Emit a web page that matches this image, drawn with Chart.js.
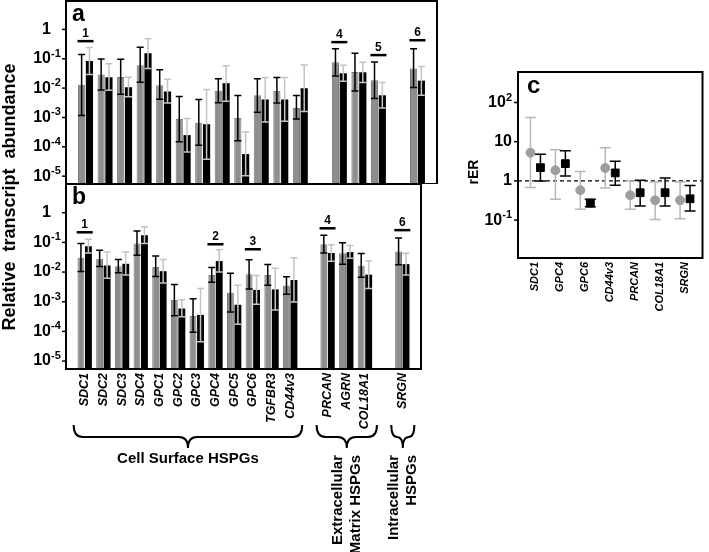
<!DOCTYPE html>
<html>
<head>
<meta charset="utf-8">
<script src="https://cdn.jsdelivr.net/npm/chart.js@4"></script>
<style>
  body { margin: 0; background: #fff; }
  #wrap { position: relative; width: 709px; height: 552px; overflow: hidden; }
  canvas { position: absolute; }
  #ytitle { position: absolute; left: -141px; top: 187px; width: 300px; height: 20px; line-height: 20px;
    text-align: center; transform: rotate(-90deg); font: bold 18px 'Liberation Sans', Arial, sans-serif;
    white-space: pre; color: #000; }
</style>
</head>
<body>
<div id="wrap">
  <canvas id="ca" width="440" height="184" style="left:0;top:0"></canvas>
  <canvas id="cb" width="440" height="369" style="left:0;top:183px"></canvas>
  <canvas id="cc" width="269" height="340" style="left:440px;top:0"></canvas>
  <div id="ytitle">Relative  transcript  abundance</div>
</div>
<script>
const FONT = "'Liberation Sans', Arial, sans-serif";
Chart.defaults.font.family = FONT;

// panels a and b: x slots ('' = gap)
const cats = ['', 'SDC1', 'SDC2', 'SDC3', 'SDC4', 'GPC1', 'GPC2', 'GPC3', 'GPC4', 'GPC5', 'GPC6', 'TGFBR3', 'CD44v3',
  '', 'PRCAN', 'AGRN', 'COL18A1', '', 'SRGN', ''];
const genes = ['SDC1', 'SDC2', 'SDC3', 'SDC4', 'GPC1', 'GPC2', 'GPC3', 'GPC4', 'GPC5', 'GPC6', 'TGFBR3', 'CD44v3',
  'PRCAN', 'AGRN', 'COL18A1', 'SRGN'];

// panel a
const aGray   = [0.0129, 0.029, 0.024, 0.06, 0.0125, 0.00088, 0.00066, 0.0082, 0.00095, 0.0057, 0.0082, 0.0021, 0.076, 0.0355, 0.0185, 0.047];
const aGrayHi = [0.141, 0.098, 0.096, 0.245, 0.042, 0.0052, 0.0041, 0.021, 0.0056, 0.021, 0.023, 0.0056, 0.22, 0.153, 0.078, 0.22];
const aGrayLo = [0.00117, 0.0087, 0.0062, 0.0159, 0.0042, 0.000148, 0.000112, 0.0032, 0.000162, 0.0015, 0.0031, 0.00088, 0.026, 0.008, 0.0044, 0.0104];
const aBlack   = [0.084, 0.0234, 0.0107, 0.153, 0.0076, 0.00025, 0.00059, 0.0147, 0.0000565, 0.0041, 0.0041, 0.0099, 0.032, 0.0346, 0.0057, 0.018];
const aBlackHi = [0.24, 0.068, 0.0236, 0.48, 0.02, 0.00093, 0.0089, 0.058, 0.00032, 0.023, 0.023, 0.061, 0.06, 0.076, 0.0154, 0.054];
const aBlackLo = [0.029, 0.0085, 0.0051, 0.047, 0.0031, 0.000066, 0.000038, 0.0036, 0.0000104, 0.0007, 0.00074, 0.0016, 0.017, 0.0154, 0.0021, 0.0057];

// panel b
const bGray   = [0.0305, 0.028, 0.0158, 0.091, 0.0147, 0.00114, 0.00034, 0.008, 0.002, 0.0085, 0.008, 0.0035, 0.086, 0.043, 0.0163, 0.049];
const bGrayHi = [0.091, 0.054, 0.0266, 0.24, 0.035, 0.0038, 0.00126, 0.0142, 0.0092, 0.026, 0.018, 0.0069, 0.174, 0.098, 0.042, 0.14];
const bGrayLo = [0.0105, 0.0154, 0.0094, 0.0366, 0.0071, 0.00034, 0.000093, 0.0045, 0.00045, 0.0027, 0.0036, 0.0018, 0.044, 0.0185, 0.0067, 0.0176];
const bBlack   = [0.074, 0.0166, 0.019, 0.174, 0.0107, 0.00059, 0.00036, 0.0235, 0.00079, 0.0025, 0.0026, 0.0054, 0.044, 0.047, 0.0082, 0.0185];
const bBlackHi = [0.127, 0.047, 0.047, 0.335, 0.0266, 0.00117, 0.0028, 0.057, 0.0036, 0.0076, 0.0135, 0.0305, 0.084, 0.078, 0.024, 0.043];
const bBlackLo = [0.044, 0.0062, 0.008, 0.091, 0.0043, 0.00031, 0.000045, 0.01, 0.000174, 0.00083, 0.00053, 0.00098, 0.023, 0.029, 0.0028, 0.008];

// numbered marks: [gene, label, height]
const sigA = [['SDC1', '1', 0.4], ['PRCAN', '4', 0.37], ['COL18A1', '5', 0.134], ['SRGN', '6', 0.43]];
const sigB = [['SDC1', '1', 0.22], ['GPC4', '2', 0.087], ['GPC6', '3', 0.059], ['PRCAN', '4', 0.30], ['SRGN', '6', 0.26]];
const yTicksAB = [1, 0.1, 0.01, 0.001, 0.0001, 0.00001];

// groups under panel b
const groups = [
  { lines: ['Cell Surface HSPGs'], from: 'SDC1', to: 'CD44v3', flat: true },
  { lines: ['Extracellular', 'Matrix HSPGs'], from: 'PRCAN', to: 'COL18A1' },
  { lines: ['Intracellular', 'HSPGs'], from: 'SRGN', to: 'SRGN' }
];

// panel c
const cCats = ['SDC1', 'GPC4', 'GPC6', 'CD44v3', 'PRCAN', 'COL18A1', 'SRGN'];
const cGray   = [5.25, 1.87, 0.58, 2.14, 0.43, 0.32, 0.32];
const cGrayHi = [41.5, 6.2, 1.73, 7.0, 1.0, 0.94, 0.94];
const cGrayLo = [0.68, 0.34, 0.19, 0.66, 0.19, 0.104, 0.108];
const cBlack   = [2.18, 2.76, 0.27, 1.6, 0.5, 0.5, 0.35];
const cBlackHi = [4.76, 5.9, 0.34, 3.16, 1.04, 1.19, 0.76];
const cBlackLo = [1.0, 1.34, 0.22, 0.78, 0.23, 0.23, 0.17];
const cTicks = [100, 10, 1, 0.1];

const GRAY = '#8e8e8e';
const slot = arr => cats.map(c => { const i = genes.indexOf(c); return i < 0 ? null : arr[i]; });

function errorBars(chart, cap, lw) {
  const ctx = chart.ctx, ys = chart.scales.y;
  chart.data.datasets.forEach((ds, di) => {
    if (!ds.errLo) return;
    chart.getDatasetMeta(di).data.forEach((el, i) => {
      const lo = ds.errLo[i], hi = ds.errHi[i];
      if (lo == null || hi == null) return;
      const x = el.x, y1 = ys.getPixelForValue(lo), y2 = ys.getPixelForValue(hi);
      ctx.save();
      ctx.strokeStyle = ds.errColor; ctx.lineWidth = lw;
      ctx.beginPath();
      ctx.moveTo(x, y1); ctx.lineTo(x, y2);
      ctx.moveTo(x - cap, y1); ctx.lineTo(x + cap, y1);
      ctx.moveTo(x - cap, y2); ctx.lineTo(x + cap, y2);
      ctx.stroke();
      ctx.restore();
    });
  });
}

function powLabel(ctx, v, x, y, align) {
  const e = Math.round(Math.log10(v));
  ctx.fillStyle = '#000'; ctx.textBaseline = 'middle';
  ctx.font = 'bold 16px ' + FONT;
  if (e === 0) { ctx.textAlign = 'right'; ctx.fillText('1', x, y); return; }
  if (e === 1) { ctx.textAlign = 'right'; ctx.fillText('10', x, y); return; }
  const base = '10', sup = String(e);
  const wb = ctx.measureText(base).width;
  ctx.font = 'bold 11px ' + FONT;
  const ws = ctx.measureText(sup).width;
  let x0 = align === 'all' ? x - wb - ws : x - wb;
  ctx.textAlign = 'left';
  ctx.font = 'bold 16px ' + FONT; ctx.fillText(base, x0, y);
  ctx.font = 'bold 11px ' + FONT; ctx.fillText(sup, x0 + wb, y - 5);
}

function brace(ctx, x1, x2, yTop, yMid, yTip) {
  const xc = (x1 + x2) / 2, r = Math.min(9, (x2 - x1) / 4);
  ctx.beginPath();
  ctx.moveTo(x1, yTop);
  ctx.quadraticCurveTo(x1, yMid, x1 + r, yMid);
  ctx.lineTo(xc - r, yMid);
  ctx.quadraticCurveTo(xc, yMid, xc, yTip);
  ctx.quadraticCurveTo(xc, yMid, xc + r, yMid);
  ctx.lineTo(x2 - r, yMid);
  ctx.quadraticCurveTo(x2, yMid, x2, yTop);
  ctx.stroke();
}

function panelPlugin(letter, sig, top, withGroups) {
  return {
    id: 'panel' + letter,
    afterDatasetsDraw(chart) {
      errorBars(chart, 3.5, 1.5);
      const ctx = chart.ctx, a = chart.chartArea, xs = chart.scales.x, ys = chart.scales.y;
      ctx.save();
      ctx.strokeStyle = '#000'; ctx.lineWidth = 2;
      ctx.strokeRect(a.left, a.top, a.right - a.left, a.bottom - a.top);
      ctx.lineWidth = 1.5;
      yTicksAB.forEach(v => {
        const y = ys.getPixelForValue(v);
        ctx.beginPath(); ctx.moveTo(a.left - 4, y); ctx.lineTo(a.left, y); ctx.stroke();
        powLabel(ctx, v, 51, y, 'base');
      });
      sig.forEach(([g, t, v]) => {
        const x = xs.getPixelForValue(cats.indexOf(g)), y = ys.getPixelForValue(v);
        ctx.fillStyle = '#000';
        ctx.fillRect(x - 8, y - 1.2, 16, 2.5);
        ctx.font = 'bold 12px ' + FONT; ctx.textAlign = 'center'; ctx.textBaseline = 'alphabetic';
        ctx.fillText(t, x, y - 4);
      });
      ctx.font = 'bold 23px ' + FONT; ctx.textAlign = 'left'; ctx.textBaseline = 'alphabetic';
      ctx.fillText(letter, 72, a.top + 20);
      if (withGroups) {
        ctx.lineWidth = 2;
        groups.forEach(gr => {
          const x1 = xs.getPixelForValue(cats.indexOf(gr.from)) - 11;
          const x2 = xs.getPixelForValue(cats.indexOf(gr.to)) + 12;
          const xc = (x1 + x2) / 2;
          brace(ctx, x1, x2, 425 - top, 437 - top, 448 - top);
          ctx.font = 'bold 15px ' + FONT; ctx.fillStyle = '#000';
          if (gr.flat) {
            ctx.textAlign = 'center'; ctx.textBaseline = 'middle';
            ctx.fillText(gr.lines[0], xc, 459 - top);
          } else {
            gr.lines.forEach((ln, k) => {
              ctx.save();
              ctx.translate(xc - 9 + k * 18, 455 - top);
              ctx.rotate(-Math.PI / 2);
              ctx.textAlign = 'right'; ctx.textBaseline = 'middle';
              ctx.fillText(ln, 0, 0);
              ctx.restore();
            });
          }
        });
      }
      ctx.restore();
    }
  };
}

function barChart(id, letter, gray, grayLo, grayHi, black, blackLo, blackHi, sig, top, showX) {
  return new Chart(document.getElementById(id), {
    type: 'bar',
    data: {
      labels: cats,
      datasets: [
        { data: slot(gray), backgroundColor: GRAY, borderColor: '#777', borderWidth: 1,
          errLo: slot(grayLo), errHi: slot(grayHi), errColor: '#000' },
        { data: slot(black), backgroundColor: '#000',
          errLo: slot(blackLo), errHi: slot(blackHi), errColor: '#c4c4c4' }
      ]
    },
    options: {
      responsive: false,
      animation: false,
      layout: { padding: { top: 1, right: 3, left: 0, bottom: 0 } },
      datasets: { bar: { categoryPercentage: 0.8, barPercentage: 0.92 } },
      plugins: { legend: { display: false }, tooltip: { enabled: false } },
      scales: {
        x: {
          type: 'category', offset: false, display: showX,
          grid: { display: false, drawTicks: false }, border: { display: false },
          ticks: { autoSkip: false, minRotation: 90, maxRotation: 90, padding: 4, color: '#000',
                   font: { size: 12.5, weight: 'bold', style: 'italic' } },
          afterFit(s) { if (showX) s.height = 183; }
        },
        y: {
          type: 'logarithmic', min: 5.4e-6, max: 9.3,
          grid: { display: false }, border: { display: false }, ticks: { display: false },
          afterFit(s) { s.width = 66; }
        }
      }
    },
    plugins: [panelPlugin(letter, sig, top, showX)]
  });
}

barChart('ca', 'a', aGray, aGrayLo, aGrayHi, aBlack, aBlackLo, aBlackHi, sigA, 0, false);
barChart('cb', 'b', bGray, bGrayLo, bGrayHi, bBlack, bBlackLo, bBlackHi, sigB, 183, true);

// panel c
const DODGE = 0.2;
const panelC = {
  id: 'panelC',
  beforeDatasetsDraw(chart) {
    const ctx = chart.ctx, a = chart.chartArea, ys = chart.scales.y;
    const y1 = ys.getPixelForValue(1);
    ctx.save();
    ctx.strokeStyle = '#000'; ctx.lineWidth = 1.3; ctx.setLineDash([4, 3]);
    ctx.beginPath(); ctx.moveTo(a.left, y1); ctx.lineTo(a.right, y1); ctx.stroke();
    ctx.restore();
    errorBars(chart, 5.5, 1.5);
  },
  afterDraw(chart) {
    const ctx = chart.ctx, a = chart.chartArea, ys = chart.scales.y;
    ctx.save();
    ctx.strokeStyle = '#000'; ctx.lineWidth = 2;
    ctx.strokeRect(a.left, a.top, a.right - a.left, a.bottom - a.top);
    ctx.lineWidth = 1.5;
    cTicks.forEach(v => {
      const y = ys.getPixelForValue(v);
      ctx.beginPath(); ctx.moveTo(a.left - 4, y); ctx.lineTo(a.left, y); ctx.stroke();
      powLabel(ctx, v, a.left - 6, y, 'all');
    });
    ctx.fillStyle = '#000';
    ctx.font = 'bold 24px ' + FONT; ctx.textAlign = 'left'; ctx.textBaseline = 'alphabetic';
    ctx.fillText('c', 87, 93);
    ctx.save();
    ctx.translate(34, 172); ctx.rotate(-Math.PI / 2);
    ctx.font = 'bold 14px ' + FONT; ctx.textAlign = 'center'; ctx.textBaseline = 'middle';
    ctx.fillText('rER', 0, 0);
    ctx.restore();
    ctx.restore();
  }
};

new Chart(document.getElementById('cc'), {
  type: 'scatter',
  data: {
    datasets: [
      { data: cGray.map((v, i) => ({ x: i - DODGE, y: v })), pointStyle: 'circle', pointRadius: 4.5,
        backgroundColor: '#9e9e9e', borderColor: '#9e9e9e',
        errLo: cGrayLo, errHi: cGrayHi, errColor: '#b8b8b8' },
      { data: cBlack.map((v, i) => ({ x: i + DODGE, y: v })), pointStyle: 'rect', pointRadius: 5.5,
        backgroundColor: '#000', borderColor: '#000',
        errLo: cBlackLo, errHi: cBlackHi, errColor: '#000' }
    ]
  },
  options: {
    responsive: false,
    animation: false,
    layout: { padding: { top: 72, right: 1, left: 0, bottom: 0 } },
    plugins: { legend: { display: false }, tooltip: { enabled: false } },
    scales: {
      x: {
        type: 'linear', min: -0.7, max: 6.7,
        grid: { display: false, drawTicks: false }, border: { display: false },
        afterBuildTicks(s) { s.ticks = cCats.map((_, i) => ({ value: i })); },
        ticks: { autoSkip: false, minRotation: 90, maxRotation: 90, padding: 4, color: '#000',
                 font: { size: 11, weight: 'bold', style: 'italic' },
                 callback: v => cCats[v] },
        afterFit(s) { s.height = 82; }
      },
      y: {
        type: 'logarithmic', min: 0.0108, max: 600,
        grid: { display: false }, border: { display: false }, ticks: { display: false },
        afterFit(s) { s.width = 78; }
      }
    }
  },
  plugins: [panelC]
});
</script>
</body>
</html>
